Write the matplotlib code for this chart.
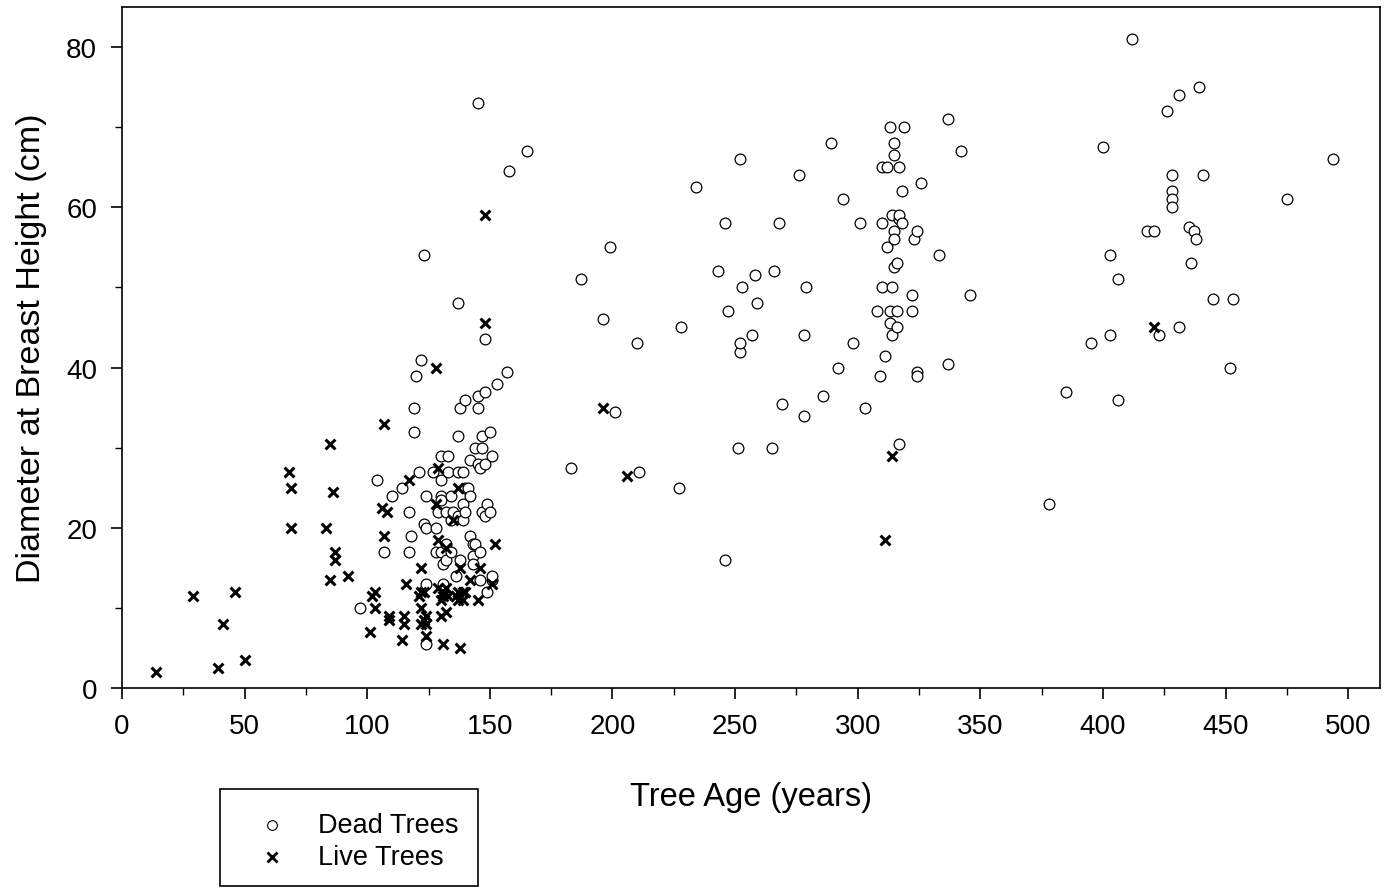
import matplotlib
matplotlib.use("Agg")
import matplotlib.pyplot as plt
import matplotlib.ticker as ticker
from matplotlib.patches import Rectangle

plt.rcParams["font.family"] = ["Liberation Sans", "DejaVu Sans"]

# ── Data ──────────────────────────────────────────────────────────────────────

# Live trees: (age in years, DBH in cm)
live_age = [14, 29, 39, 41, 46, 50, 68, 69, 69, 83, 85, 85, 86, 87, 87, 92,
            101, 102, 103, 103, 106, 107, 107, 108, 109, 109, 114, 115, 115, 116,
            117, 121, 122, 122, 122, 122, 123, 123, 124, 124, 124, 128, 128, 129,
            129, 129, 130, 130, 131, 131, 131, 132, 132, 132, 133, 135, 136, 137,
            137, 137, 138, 138, 139, 139, 140, 142, 145, 146, 148, 148, 151, 152,
            196, 206, 311, 314, 421]
live_dbh = [2, 11.5, 2.5, 8, 12, 3.5, 27, 25, 20, 20, 30.5, 13.5, 24.5, 17, 16, 14,
            7, 11.5, 12, 10, 22.5, 19, 33, 22, 9, 8.5, 6, 8, 9, 13,
            26, 11.5, 12, 15, 8, 10, 12, 8.5, 6.5, 8, 9, 23, 40, 27.5,
            18.5, 12.5, 9, 11, 11.5, 5.5, 12, 17.5, 12.5, 9.5, 11.5, 21, 11.5, 11,
            12, 25, 15, 5, 11, 12, 12, 13.5, 11, 15, 59, 45.5, 13, 18,
            35, 26.5, 18.5, 29, 45]

# Dead trees: (age in years, DBH in cm)
dead_age = [97, 104, 107, 110, 114, 117, 117, 118, 119, 119, 120, 121, 122, 123,
            123, 124, 124, 124, 124, 127, 128, 128, 129, 130, 130, 130, 130, 130,
            131, 131, 132, 132, 132, 133, 133, 134, 134, 134, 135, 136, 137, 137,
            137, 137, 138, 138, 139, 139, 139, 140, 140, 140, 141, 142, 142, 142,
            143, 143, 143, 144, 144, 145, 145, 145, 145, 146, 146, 146, 147, 147,
            147, 148, 148, 148, 148, 149, 149, 150, 150, 151, 151, 151, 153, 157,
            158, 165,
            183, 187, 196, 199, 201, 210, 211, 227, 228, 234, 243, 246, 246, 247,
            251, 252, 252, 252, 253, 257, 258, 259, 265, 266, 268, 269, 276, 278,
            278, 279, 286, 289, 292, 294, 298, 301, 303, 308, 309, 310, 310, 310,
            311, 312, 312, 313, 313, 313, 314, 314, 314, 315, 315, 315, 315, 315,
            316, 316, 316, 317, 317, 317, 318, 318, 317, 319, 322, 322, 323, 324,
            324, 324, 326, 333, 337, 337, 342, 346,
            378, 385, 395, 400, 403, 403, 406, 406, 412, 418, 421, 423, 426, 428,
            428, 428, 428, 431, 431, 435, 436, 437, 438, 439, 441, 445, 452, 453,
            475, 494]
dead_dbh = [10, 26, 17, 24, 25, 17, 22, 19, 32, 35, 39, 27, 41, 54,
            20.5, 24, 20, 13, 5.5, 27, 17, 20, 22, 24, 26, 23.5, 29, 17,
            15.5, 13, 22, 18, 16, 27, 29, 21, 24, 17, 22, 14, 21.5, 48,
            31.5, 27, 35, 16, 23, 21, 27, 36, 22, 25, 25, 28.5, 24, 19,
            18, 16.5, 15.5, 30, 18, 73, 35, 28, 36.5, 27.5, 17, 13.5, 30, 31.5,
            22, 37, 43.5, 28, 21.5, 23, 12, 32, 22, 29, 13.5, 14, 38, 39.5,
            64.5, 67,
            27.5, 51, 46, 55, 34.5, 43, 27, 25, 45, 62.5, 52, 16, 58, 47,
            30, 42, 43, 66, 50, 44, 51.5, 48, 30, 52, 58, 35.5, 64, 34,
            44, 50, 36.5, 68, 40, 61, 43, 58, 35, 47, 39, 50, 65, 58,
            41.5, 65, 55, 70, 47, 45.5, 44, 50, 59, 57, 68, 52.5, 66.5, 56,
            45, 47, 53, 58.5, 65, 59, 58, 62, 30.5, 70, 49, 47, 56, 57,
            39.5, 39, 63, 54, 71, 40.5, 67, 49,
            23, 37, 43, 67.5, 54, 44, 36, 51, 81, 57, 57, 44, 72, 64,
            62, 61, 60, 74, 45, 57.5, 53, 57, 56, 75, 64, 48.5, 40, 48.5,
            61, 66]

x_ticks = [0, 50, 100, 150, 200, 250, 300, 350, 400, 450, 500]
y_ticks = [0, 20, 40, 60, 80]

# ── Figure ────────────────────────────────────────────────────────────────────

fig = plt.figure(figsize=(13.85, 8.95), dpi=100)
ax = fig.add_axes([122 / 1385, 1 - 689 / 895, 1258 / 1385, 681 / 895])

ax.scatter(dead_age, dead_dbh, s=60, marker="o", facecolors="white",
           edgecolors="black", linewidths=0.9, zorder=3)
ax.scatter(live_age, live_dbh, s=50, marker="x", color="black",
           linewidths=2.2, zorder=4)

ax.set_xlim(0, 513)
ax.set_ylim(0, 85)
ax.set_xticks(x_ticks)
ax.set_yticks(y_ticks)
ax.xaxis.set_minor_locator(ticker.MultipleLocator(25))
ax.yaxis.set_minor_locator(ticker.MultipleLocator(10))
ax.tick_params(which="major", direction="out", length=8, width=1.2,
               labelsize=20, pad=10)
ax.tick_params(which="minor", direction="out", length=5, width=1.0)
for sp in ax.spines.values():
    sp.set_linewidth(1.2)

ax.set_xlabel("Tree Age (years)", fontsize=23.5, labelpad=30)
ax.set_ylabel("Diameter at Breast Height (cm)", fontsize=24.5, labelpad=14)

# ── Legend box below the axes ─────────────────────────────────────────────────
box = Rectangle((220 / 1385, 1 - 887 / 895), 258 / 1385, 97 / 895,
                transform=fig.transFigure, facecolor="white",
                edgecolor="black", linewidth=1.2)
fig.patches.append(box)
fig.lines.append(plt.Line2D([272 / 1385], [1 - 826 / 895], marker="o",
                            markersize=7, markerfacecolor="white",
                            markeredgecolor="black", markeredgewidth=0.8,
                            linestyle="none", transform=fig.transFigure))
fig.lines.append(plt.Line2D([272 / 1385], [1 - 858 / 895], marker="x",
                            markersize=6.5, color="black", markeredgewidth=2.0,
                            linestyle="none", transform=fig.transFigure))
fig.text(318 / 1385, 1 - 826 / 895, "Dead Trees", fontsize=19.5,
         va="center", ha="left")
fig.text(318 / 1385, 1 - 858 / 895, "Live Trees", fontsize=19.5,
         va="center", ha="left")

fig.savefig("out.png", dpi=100)
